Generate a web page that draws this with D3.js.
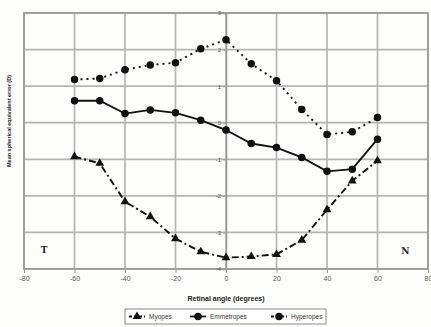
<!DOCTYPE html>
<html>
<head>
<meta charset="utf-8">
<script src="https://cdn.jsdelivr.net/npm/d3@7"></script>
<style>
  body { margin: 0; background: #fdfdfb; }
  svg { display: block; font-family: Arial, "Liberation Sans", sans-serif; }
</style>
</head>
<body>
<script>
// retinal angles (degrees)
var angles = [-60, -50, -40, -30, -20, -10, 0, 10, 20, 30, 40, 50, 60];

// mean error (D) per group
var myopes     = [-0.93, -1.11, -2.16, -2.57, -3.17, -3.53, -3.69, -3.66, -3.60, -3.21, -2.38, -1.59, -1.04];
var emmetropes = [0.60, 0.60, 0.25, 0.35, 0.27, 0.07, -0.20, -0.57, -0.68, -0.95, -1.33, -1.27, -0.45];
var hyperopes  = [1.18, 1.21, 1.45, 1.58, 1.64, 2.02, 2.27, 1.61, 1.15, 0.36, -0.32, -0.25, 0.14];

var xTicks = [-80, -60, -40, -20, 0, 20, 40, 60, 80];
var yTicks = [3, 2, 1, 0, -1, -2, -3, -4];

var series = [
  {name: "Myopes", values: myopes, dash: "7,3,2,3", marker: "triangle"},
  {name: "Emmetropes", values: emmetropes, dash: null, marker: "circle"},
  {name: "Hyperopes", values: hyperopes, dash: "2,4", marker: "circle"}
];

var W = 431, H = 327;
var margin = {top: 13, right: 3, bottom: 58, left: 24};
var width = W - margin.left - margin.right,
    height = H - margin.top - margin.bottom;

var svg = d3.select("body").append("svg")
    .attr("width", W)
    .attr("height", H);

var g = svg.append("g")
    .attr("transform", "translate(" + margin.left + "," + margin.top + ")");

var x = d3.scaleLinear().domain([-80, 80]).range([0, width]);
var y = d3.scaleLinear().domain([-4, 3]).range([height, 0]);
var plain = function(d) { return String(d); };

// grid
g.selectAll(".vgrid")
  .data(xTicks)
  .enter().append("line")
    .attr("x1", function(d) { return x(d); })
    .attr("x2", function(d) { return x(d); })
    .attr("y1", 0).attr("y2", height)
    .style("stroke", "#b4b4b4")
    .style("stroke-width", 1.7);

g.selectAll(".hgrid")
  .data(yTicks)
  .enter().append("line")
    .attr("x1", 0).attr("x2", width)
    .attr("y1", function(d) { return y(d); })
    .attr("y2", function(d) { return y(d); })
    .style("stroke", "#b4b4b4")
    .style("stroke-width", 1.7);

// frame
g.append("rect")
  .attr("width", width).attr("height", height)
  .style("fill", "none")
  .style("stroke", "#999")
  .style("stroke-width", 1.7);

// x axis at bottom
var xAxis = g.append("g")
  .attr("transform", "translate(0," + height + ")")
  .call(d3.axisBottom(x).tickValues(xTicks).tickFormat(plain).tickSize(4).tickPadding(3));
xAxis.select(".domain").remove();
xAxis.selectAll("line").style("stroke", "#999");
xAxis.selectAll("text").style("font-size", "7px").style("fill", "#555");

// y axis at x = 0
var yAxis = g.append("g")
  .attr("transform", "translate(" + x(0) + ",0)")
  .call(d3.axisLeft(y).tickValues(yTicks).tickFormat(plain).tickSize(3).tickPadding(2));
yAxis.select(".domain").style("stroke", "#999").style("stroke-width", 1.5);
yAxis.selectAll("line").style("stroke", "#999");
yAxis.selectAll("text").style("font-size", "6px").style("fill", "#555");

// lines
var line = d3.line()
  .x(function(d) { return x(d[0]); })
  .y(function(d) { return y(d[1]); });

var triangle = d3.symbol().type(d3.symbolTriangle).size(34);
var circle = d3.symbol().type(d3.symbolCircle).size(44);

series.forEach(function(s) {
  var pts = angles.map(function(a, i) { return [a, s.values[i]]; });
  g.append("path")
    .datum(pts)
    .attr("d", line)
    .style("fill", "none")
    .style("stroke", "#111")
    .style("stroke-width", 1.9)
    .style("stroke-dasharray", s.dash);

  g.selectAll(".m-" + s.name)
    .data(pts)
    .enter().append("path")
      .attr("transform", function(d) { return "translate(" + x(d[0]) + "," + y(d[1]) + ")"; })
      .attr("d", s.marker == "triangle" ? triangle : circle)
      .style("fill", "#111");
});

// T / N labels
g.append("text")
  .attr("x", x(-72)).attr("y", y(-3.55))
  .attr("text-anchor", "middle")
  .style("font-family", "'DejaVu Serif', serif")
  .style("font-weight", "bold")
  .style("font-size", "9px")
  .style("fill", "#222")
  .text("T");
g.append("text")
  .attr("x", x(71)).attr("y", y(-3.6))
  .attr("text-anchor", "middle")
  .style("font-family", "'DejaVu Serif', serif")
  .style("font-weight", "bold")
  .style("font-size", "9px")
  .style("fill", "#222")
  .text("N");

// axis titles
svg.append("text")
  .attr("x", margin.left + x(0))
  .attr("y", 301)
  .attr("text-anchor", "middle")
  .style("font-size", "7px")
  .style("font-weight", "bold")
  .style("fill", "#222")
  .text("Retinal angle (degrees)");

svg.append("text")
  .attr("transform", "translate(11," + 121 + ") rotate(-90)")
  .attr("text-anchor", "middle")
  .style("font-size", "5.5px")
  .style("font-weight", "bold")
  .style("fill", "#222")
  .text("Mean spherical equivalent error (D)");

// legend
var legend = svg.append("g").attr("transform", "translate(125,309)");
legend.append("rect")
  .attr("width", 201).attr("height", 15)
  .style("fill", "#fff")
  .style("stroke", "#888");

var legendX = [4, 65, 146];
series.forEach(function(s, i) {
  var lg = legend.append("g").attr("transform", "translate(" + legendX[i] + ",7.5)");
  lg.append("line")
    .attr("x1", 0).attr("x2", 16)
    .style("stroke", "#111")
    .style("stroke-width", 1.8)
    .style("stroke-dasharray", s.dash ? "3,2" : null);
  lg.append("path")
    .attr("transform", "translate(8,0)")
    .attr("d", s.marker == "triangle" ? triangle : circle)
    .style("fill", "#111");
  lg.append("text")
    .attr("x", 20).attr("y", 2.2)
    .style("font-size", "6.5px")
    .style("fill", "#333")
    .text(s.name);
});
</script>
</body>
</html>
